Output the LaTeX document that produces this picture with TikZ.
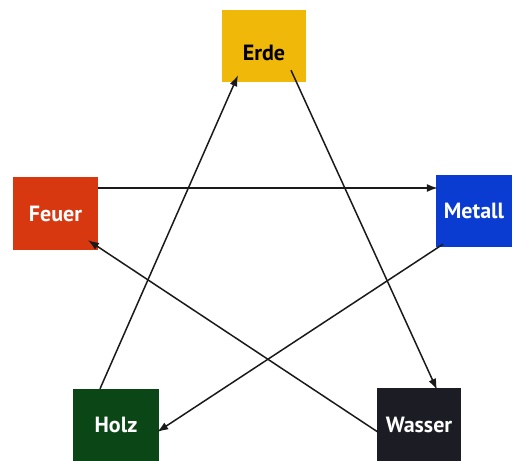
\documentclass[tikz,border=0pt]{standalone}
\usepackage{fontspec}
\setmainfont{PT Sans}
\usetikzlibrary{calc,arrows.meta}
\definecolor{erdec}{HTML}{F0B808}
\definecolor{feuerc}{HTML}{D83810}
\definecolor{metallc}{HTML}{0A3CD2}
\definecolor{holzc}{HTML}{0B4616}
\definecolor{wasserc}{HTML}{1C1C24}
\definecolor{arrc}{HTML}{1A1A1A}
\begin{document}
\begin{tikzpicture}[x=1pt,y=1pt,
  elem/.style={rectangle, inner sep=0pt, text=white, font=\fontsize{22}{24}\selectfont\bfseries},
  conn/.style={draw=arrc, line width=1.5pt, -{Latex[length=11pt,width=8pt]}}]
\useasboundingbox (0,0) rectangle (515,461);
\fill[white] (0,0) rectangle (515,461);
\node[elem, fill=erdec, text=black, minimum width=84pt, minimum height=72pt] (erde) at (264,415) {\raisebox{-15pt}[0pt][0pt]{Erde}};
\node[elem, fill=feuerc, minimum width=85pt, minimum height=73pt] (feuer) at (55.5,247.5) {Feuer};
\node[elem, fill=metallc, minimum width=76pt, minimum height=72pt] (metall) at (474,250) {Metall};
\node[elem, fill=holzc, minimum width=86pt, minimum height=72pt] (holz) at (116,36) {Holz};
\node[elem, fill=wasserc, minimum width=84pt, minimum height=73pt] (wasser) at (419,36.5) {Wasser};
\draw[conn] ($(holz.north)+(-16,0)$) -- ($(erde.south)+(-26,7)$);
\draw[conn] ($(erde.south)+(27,12)$) -- ($(wasser.north)+(18,-2)$);
\draw[conn] ($(feuer.east)+(0,25.5)$) -- ($(metall.west)+(2,23)$);
\draw[conn] ($(metall.south)+(-31,3)$) -- ($(holz.east)+(-2,-7)$);
\draw[conn] ($(wasser.west)+(1,-7.5)$) -- ($(feuer.south)+(32.5,10)$);
\end{tikzpicture}
\end{document}
